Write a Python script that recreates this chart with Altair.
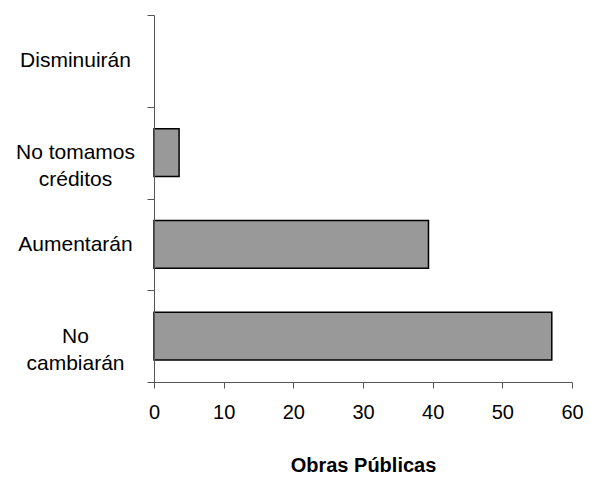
import altair as alt
import pandas as pd

categories = ["Disminuirán", "No tomamos\ncréditos", "Aumentarán", "No\ncambiarán"]
values = [0.0, 3.6, 39.4, 57.1]
x_ticks = [0, 10, 20, 30, 40, 50, 60]

df = pd.DataFrame({"cat": categories, "val": values})

chart = alt.Chart(df).mark_bar(
    color="#999999", stroke="#000000", strokeWidth=1.5, height={"band": 0.52}
).encode(
    x=alt.X("val:Q",
            scale=alt.Scale(domain=[0, 60], nice=False),
            axis=alt.Axis(values=x_ticks, title="Obras Públicas", grid=False,
                          tickSize=6, labelPadding=14, labelFontSize=20,
                          labelFont="Liberation Sans", labelColor="#000000",
                          domainColor="#555555", tickColor="#555555",
                          titleFont="Liberation Sans", titleFontSize=20,
                          titleFontWeight="bold", titleColor="#000000",
                          titlePadding=33, labelFlush=False, zindex=1)),
    y=alt.Y("cat:N", sort=categories,
            scale=alt.Scale(paddingInner=0, paddingOuter=0),
            axis=alt.Axis(title=None, tickBand="extent", tickSize=7,
                          labelAlign="center", labelPadding=72,
                          labelFontSize=21, labelFont="Liberation Sans",
                          labelColor="#000000", labelLineHeight=27,
                          labelExpr="split(datum.label, '\\n')",
                          domainColor="#555555", tickColor="#555555",
                          zindex=1)),
    strokeOpacity=alt.condition("datum.val > 0", alt.value(1), alt.value(0)),
).properties(
    width=418, height=367,
    autosize=alt.AutoSizeParams(type="none"),
    padding={"left": 146, "top": 7, "right": 11, "bottom": 96},
).configure_view(stroke=None)

chart.save("out.html", embed_options={"renderer": "svg", "actions": False})
